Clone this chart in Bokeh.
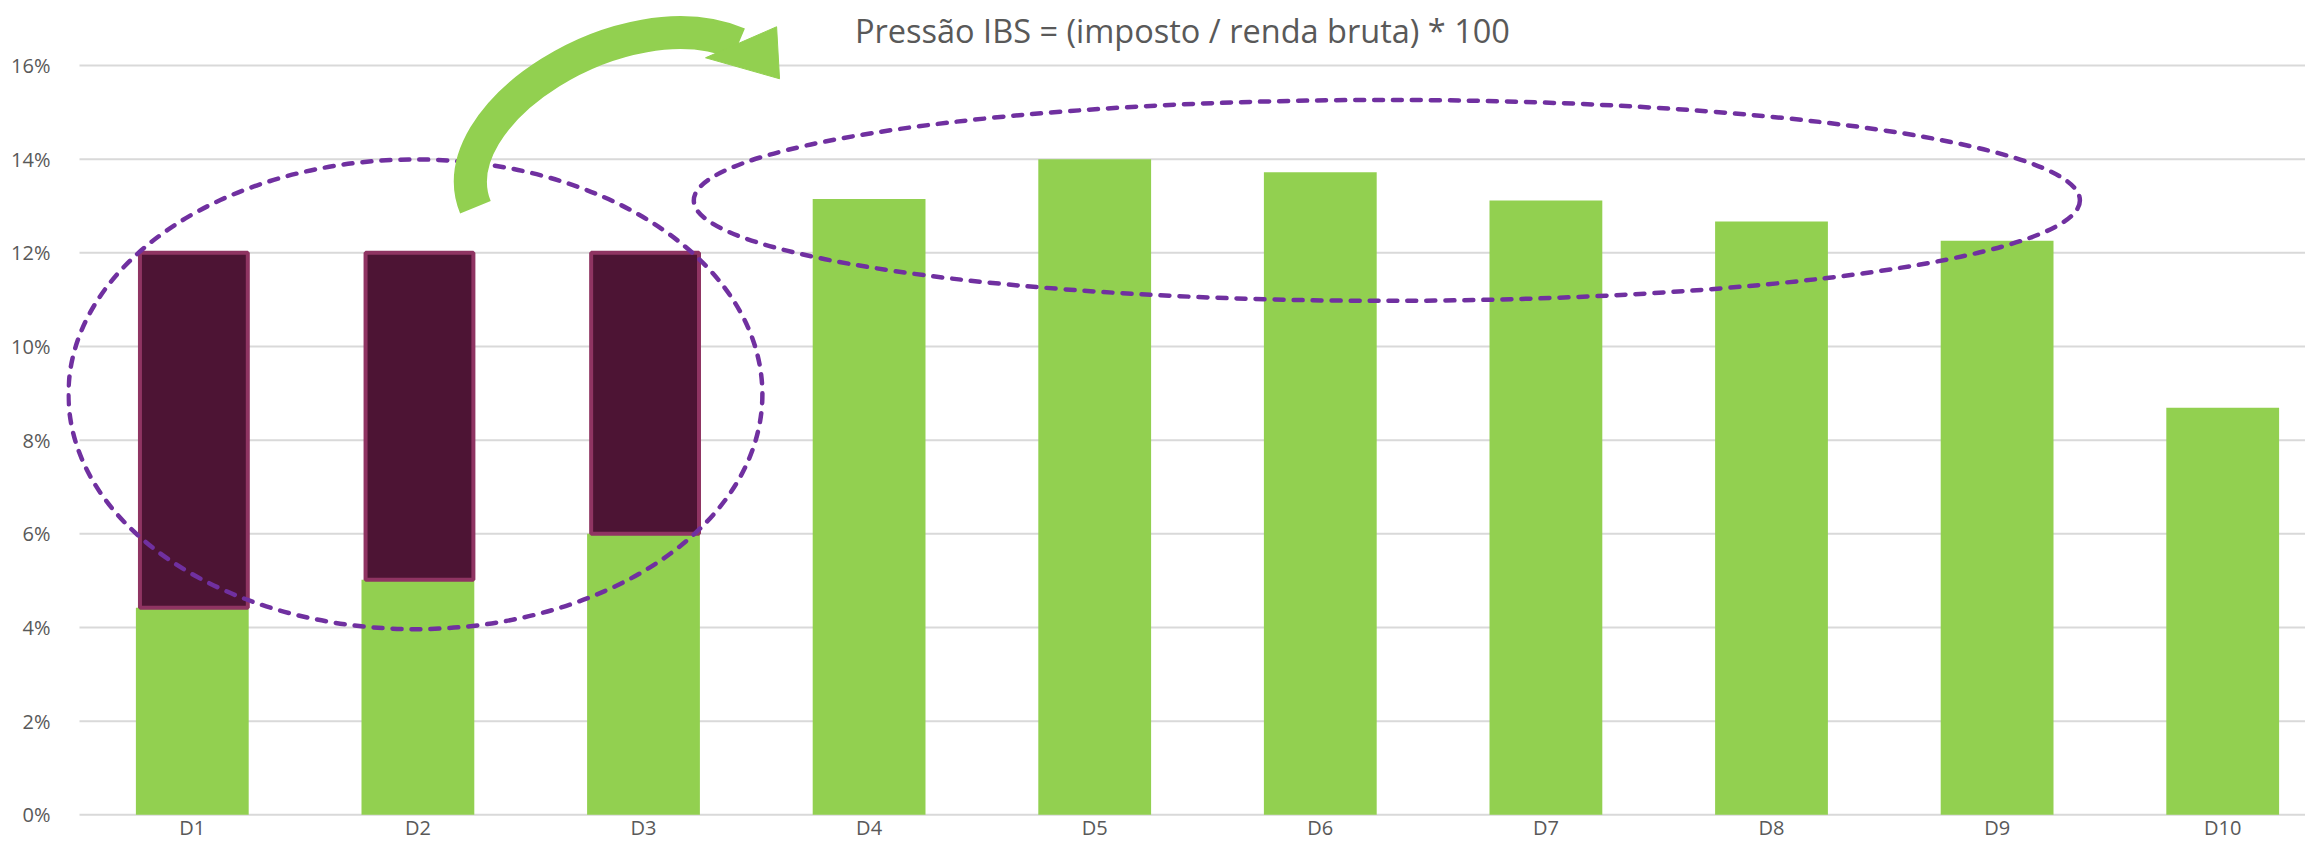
import numpy as np
from bokeh.plotting import figure
from bokeh.models import (Range1d, FixedTicker, PrintfTickFormatter, Label,
                          ColumnDataSource)
from bokeh.core.properties import value
from bokeh.embed import file_html
from bokeh.resources import INLINE

# ---------------- data ----------------
categories = ["D1", "D2", "D3", "D4", "D5", "D6", "D7", "D8", "D9", "D10"]
pressao_ibs = [4.42, 5.02, 6.00, 13.15, 14.00, 13.72, 13.12, 12.67, 12.26, 8.69]   # % (green bars)
faixa_categorias = ["D1", "D2", "D3"]
faixa_topo = [12.0, 12.0, 12.0]                                                   # % (dark band top)
y_tick_values = [0, 2, 4, 6, 8, 10, 12, 14, 16]
titulo = "Pressão IBS = (imposto / renda bruta) * 100"

# ---------------- styles ----------------
GREEN = "#92D050"
DARK = "#4D1434"
DARK_EDGE = "#8F3462"
PURPLE = "#7030A0"
GRID = "#D9D9D9"
TEXT = "#595959"
FONT = "Open Sans"

X_END = 9.867
xpos = np.arange(len(categories)) + 0.5
pos = {c: x for c, x in zip(categories, xpos)}

p = figure(width=2305, height=841, output_backend="svg", toolbar_location=None,
           x_range=Range1d(-0.0576, X_END), y_range=Range1d(-0.570, 17.388),
           min_border_left=66, min_border_right=0, min_border_top=0,
           min_border_bottom=0, background_fill_color="white",
           border_fill_color="white")
p.outline_line_color = None

# horizontal gridlines (start at the category area)
p.segment(x0=[0] * len(y_tick_values), x1=[X_END] * len(y_tick_values),
          y0=y_tick_values, y1=y_tick_values, line_color=GRID, line_width=2)

# green bars
src = ColumnDataSource(dict(x=xpos, top=pressao_ibs))
p.vbar(x="x", top="top", bottom=0, width=0.5, source=src,
       fill_color=GREEN, line_color=None)

# dark band over D1-D3
fx = [pos[c] + 0.007 for c in faixa_categorias]
fb = [pressao_ibs[categories.index(c)] for c in faixa_categorias]
p.vbar(x=fx, bottom=fb, top=faixa_topo, width=0.478,
       fill_color=DARK, line_color=DARK_EDGE, line_width=4)

# dashed ellipses
p.ellipse(x=[1.489, 5.795], y=[8.979, 13.12], width=[3.076, 6.144],
          height=[10.03, 4.29], fill_color=None, line_color=PURPLE,
          line_width=4.5, line_dash="9 10", line_cap="round")

# curved green arrow
p.bezier(x0=[1.755], y0=[12.972], x1=[2.921], y1=[16.464],
         cx0=[1.587], cy0=[14.969], cx1=[2.420], cy1=[17.489],
         line_color=GREEN, line_width=33)
p.patch(x=[3.090, 2.775, 3.103], y=[16.827, 16.165, 15.717],
        fill_color=GREEN, line_color=GREEN, line_width=1)

# title
p.add_layout(Label(x=4.889, y=16.75, text=titulo, text_align="center",
                   text_baseline="alphabetic", text_font_size="32.5px",
                   text_color=TEXT, text_font=FONT))

# category labels (x axis)
p.text(x=xpos, y=-0.275, text=categories, text_align="center",
       text_baseline="middle", text_font_size="20px", text_color=TEXT,
       text_font=value(FONT))
p.xaxis.visible = False

# y axis
p.xgrid.visible = False
p.ygrid.visible = False

p.yaxis.ticker = FixedTicker(ticks=y_tick_values)
p.yaxis.formatter = PrintfTickFormatter(format="%d%%")
p.yaxis.axis_line_color = None
p.yaxis.major_tick_line_color = None
p.yaxis.minor_tick_line_color = None
p.yaxis.major_label_standoff = 10
p.yaxis.major_label_text_font = FONT
p.yaxis.major_label_text_font_size = "20px"
p.yaxis.major_label_text_color = TEXT

open("out.html", "w").write(file_html(p, INLINE))
